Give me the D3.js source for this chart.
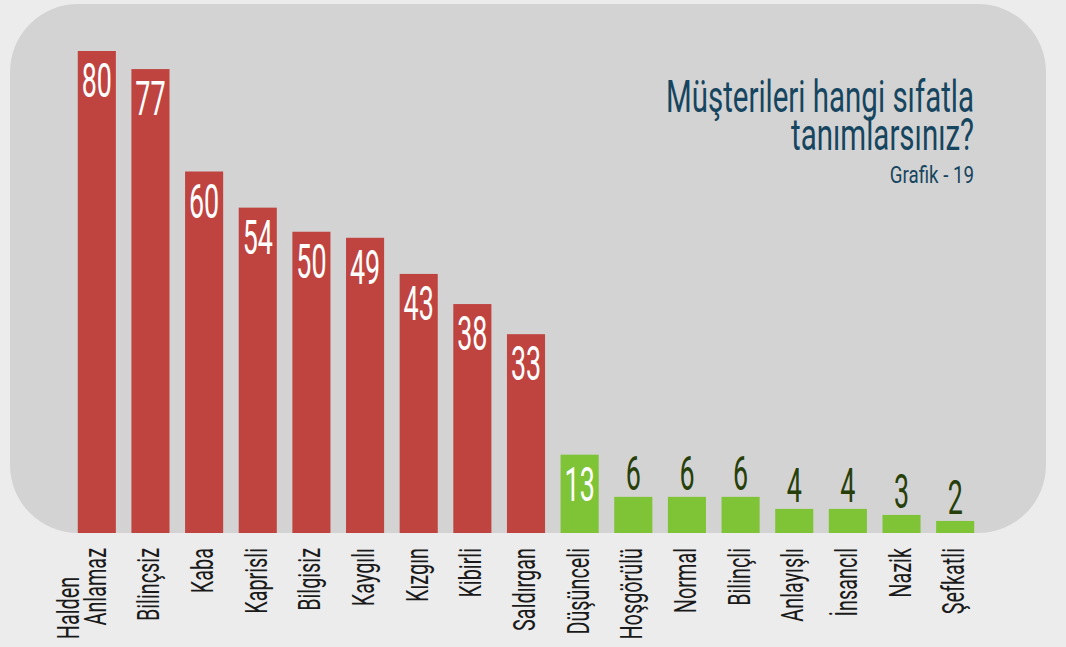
<!DOCTYPE html>
<html>
<head>
<meta charset="utf-8">
<script src="https://cdn.jsdelivr.net/npm/d3@7"></script>
<style>
  body { margin: 0; background: #ececec; }
  svg { display: block; }
</style>
</head>
<body>
<div id="chart"></div>
<script>
const categories = ['Halden Anlamaz', 'Bilinçsiz', 'Kaba', 'Kaprisli', 'Bilgisiz', 'Kaygılı', 'Kızgın', 'Kibirli', 'Saldırgan',
  'Düşünceli', 'Hoşgörülü', 'Normal', 'Bilinçli', 'Anlayışlı', 'İnsancıl', 'Nazik', 'Şefkatli'];
const values = [80, 77, 60, 54, 50, 49, 43, 38, 33, 13, 6, 6, 6, 4, 4, 3, 2];
const negative = [true, true, true, true, true, true, true, true, true, false, false, false, false, false, false, false, false];
const titleLines = ['Müşterileri hangi sıfatla', 'tanımlarsınız?'];
const subtitle = 'Grafik - 19';

const width = 1066, height = 647;
const font = "Roboto, 'DejaVu Sans Condensed', sans-serif";

const svg = d3.select('#chart').append('svg')
  .attr('width', width)
  .attr('height', height);

svg.append('rect')
  .attr('width', width).attr('height', height)
  .attr('fill', '#ececec');

// grey rounded panel
svg.append('rect')
  .attr('x', 10).attr('y', 4)
  .attr('width', 1036).attr('height', 529)
  .attr('rx', 68).attr('ry', 68)
  .attr('fill', '#d3d3d3');

const x = d3.scaleBand()
  .domain(categories)
  .range([70, 982])
  .paddingInner(0.29)
  .paddingOuter(0.145);

const y = d3.scaleLinear().domain([0, 80]).range([533, 51]);

svg.selectAll('rect.bar')
  .data(categories)
  .join('rect')
  .attr('class', 'bar')
  .attr('x', d => x(d))
  .attr('y', (d, i) => y(values[i]))
  .attr('width', x.bandwidth())
  .attr('height', (d, i) => y(0) - y(values[i]))
  .attr('fill', (d, i) => negative[i] ? '#bf4440' : '#7fc436');

// value labels
svg.selectAll('text.val')
  .data(categories)
  .join('text')
  .attr('class', 'val')
  .attr('text-anchor', 'middle')
  .attr('font-family', font)
  .attr('font-size', 48)
  .attr('fill', (d, i) => values[i] > 10 ? '#ffffff' : '#27400a')
  .attr('transform', (d, i) => {
    const cx = x(d) + x.bandwidth() / 2;
    const by = values[i] > 10 ? y(values[i]) + 46 : y(values[i]) - 7;
    return `translate(${cx},${by}) scale(0.56,1)`;
  })
  .text((d, i) => values[i]);

// category labels, rotated
const lab = svg.selectAll('g.lab')
  .data(categories)
  .join('g')
  .attr('class', 'lab')
  .attr('transform', d => `translate(${x(d) + x.bandwidth() / 2 + 9},548) rotate(-90) scale(0.64,1)`);

lab.each(function (d) {
  const g = d3.select(this);
  const parts = d.split(' ');
  if (parts.length > 1) {
    g.append('text')
      .attr('text-anchor', 'end')
      .attr('x', -45).attr('y', -27)
      .text(parts[0]);
    g.append('text')
      .attr('text-anchor', 'end')
      .text(parts.slice(1).join(' '));
  } else {
    g.append('text')
      .attr('text-anchor', 'end')
      .text(d);
  }
});
lab.selectAll('text')
  .attr('font-family', font)
  .attr('font-size', 31)
  .attr('fill', '#1a1a1a');

// title block
svg.selectAll('text.title')
  .data(titleLines)
  .join('text')
  .attr('class', 'title')
  .attr('text-anchor', 'end')
  .attr('font-family', font)
  .attr('font-size', 44)
  .attr('fill', '#16455f')
  .attr('transform', (d, i) => `translate(974,${112 + i * 38}) scale(0.67,1)`)
  .text(d => d);

svg.append('text')
  .attr('text-anchor', 'end')
  .attr('font-family', font)
  .attr('font-size', 24)
  .attr('fill', '#16455f')
  .attr('transform', 'translate(974,183) scale(0.78,1)')
  .text(subtitle);
</script>
</body>
</html>
